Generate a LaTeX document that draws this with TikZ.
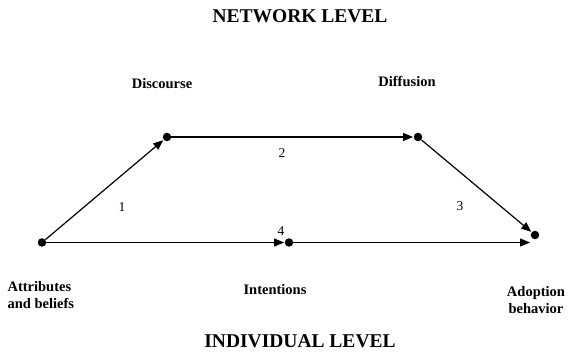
\documentclass[tikz,border=0pt]{standalone}
\usepackage{fontspec}
\setmainfont{Liberation Serif}
\usetikzlibrary{arrows.meta}

\begin{document}
\begin{tikzpicture}[x=1pt,y=-1pt,
  dot/.style={circle, fill=black, inner sep=0pt, minimum size=8.5pt},
  lvl/.style={font=\fontsize{19.5}{22}\selectfont\bfseries},
  lbl/.style={font=\fontsize{14.5}{17}\selectfont\bfseries, align=left},
  num/.style={font=\fontsize{13.5}{16}\selectfont},
  arr/.style={line width=1.2pt, -{Triangle[length=10pt,width=8pt]}, shorten >=0.5pt}]
\useasboundingbox (0,0) rectangle (568,358);
\node[lvl] (net) at (300,16) {NETWORK LEVEL};
\node[lvl] (ind) at (300,341) {INDIVIDUAL LEVEL};
\node[dot] (att) at (42,242.5) {};
\node[dot] (dis) at (167,137) {};
\node[dot] (dif) at (418,137) {};
\node[dot] (int) at (289,242.5) {};
\node[dot] (adp) at (535,235) {};
\node[lbl, anchor=west] (latt) at (4,295) {Attributes\\and beliefs};
\node[lbl] (ldis) at (162,84) {Discourse};
\node[lbl] (ldif) at (407,81) {Diffusion};
\node[lbl] (lint) at (275,290) {Intentions};
\node[lbl, align=center] (ladp) at (536,300) {Adoption\\behavior};
\draw[arr] (att) -- (dis);
\draw[arr] (dis) -- (dif);
\draw[arr] (dif) -- (adp);
\draw[arr] (att) -- (int);
\draw[arr] (int) -- (int -| adp.west);
\node[num] (n1) at (122,207) {1};
\node[num] (n2) at (282,153) {2};
\node[num] (n3) at (460,206) {3};
\node[num] (n4) at (281,231) {4};
\end{tikzpicture}
\end{document}
